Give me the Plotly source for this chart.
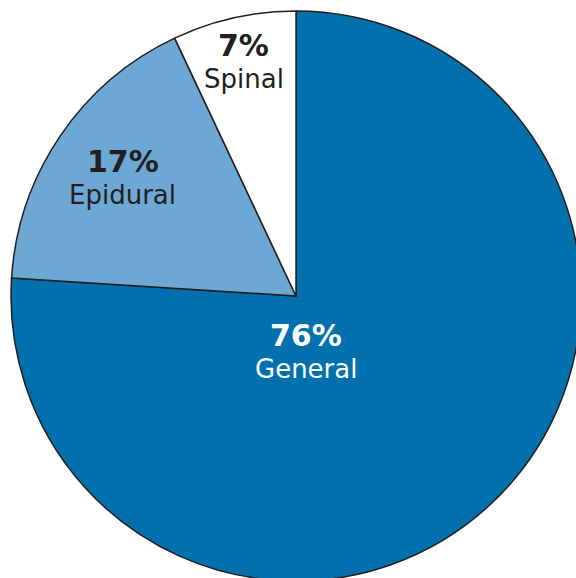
import math
import plotly.graph_objects as go

labels = ["General", "Epidural", "Spinal"]
values = [76, 17, 7]
colors = ["#0071ae", "#6da7d3", "#ffffff"]
text_colors = ["#ffffff", "#231f20", "#231f20"]

# label placement (layout constants): radius fraction and angle nudge (deg)
label_radius = [0.20, 0.735, 0.84]
label_angle_nudge = [32.7, 0.0, 0.0]
line_gap = 16.5

fig = go.Figure(go.Pie(
    labels=labels,
    values=values,
    sort=False,
    direction="clockwise",
    rotation=0,
    marker=dict(colors=colors, line=dict(color="#231f20", width=1.5)),
    textinfo="none",
    hoverinfo="label+percent",
    showlegend=False,
))

total = sum(values)
cum = 0.0
annotations = []
for lab, val, tc, rf, nudge in zip(labels, values, text_colors, label_radius, label_angle_nudge):
    mid = (cum + val / 2) / total * 360.0 + nudge
    cum += val
    th = math.radians(mid)
    x = 0.5 + 0.5 * rf * math.sin(th)
    y = 0.5 + 0.5 * rf * math.cos(th)
    annotations.append(dict(
        x=x, y=y, xref="paper", yref="paper", showarrow=False,
        text=f"<b>{val}%</b>", yshift=line_gap,
        xanchor="center", yanchor="middle",
        font=dict(family="DejaVu Sans", size=30, color=tc),
    ))
    annotations.append(dict(
        x=x, y=y, xref="paper", yref="paper", showarrow=False,
        text=lab, yshift=-line_gap,
        xanchor="center", yanchor="middle",
        font=dict(family="DejaVu Sans", size=26, color=tc),
    ))

fig.update_layout(
    width=590, height=590,
    margin=dict(l=11, t=11, r=9, b=9),
    paper_bgcolor="white",
    plot_bgcolor="white",
    annotations=annotations,
)

fig.write_html(
    "out.html",
    config={"displayModeBar": False},
    post_script="document.body.style.margin='0';document.body.style.overflow='hidden';",
)
